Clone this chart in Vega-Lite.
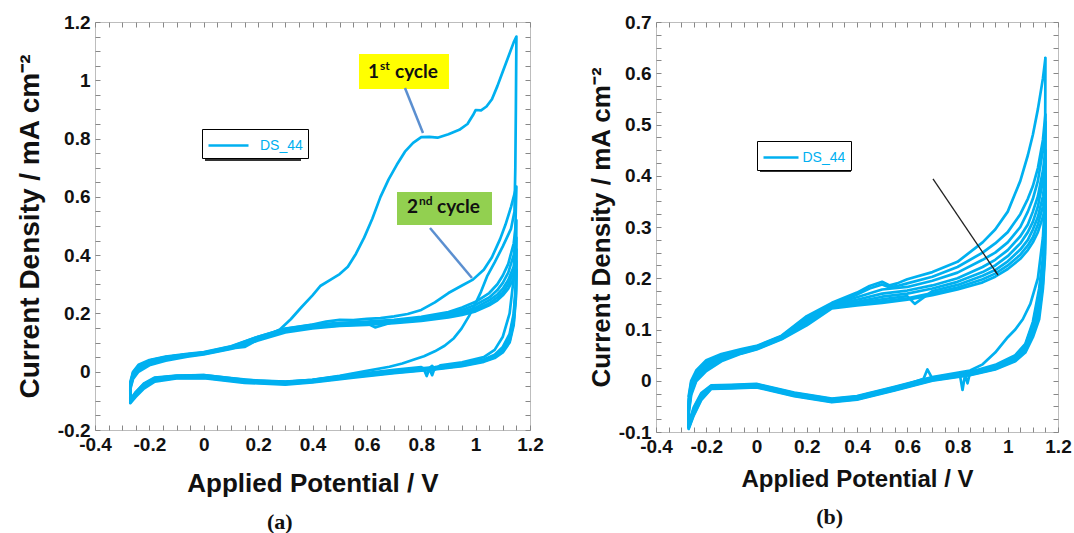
{
"$schema":"https://vega.github.io/schema/vega-lite/v6.json",
"background":"white",
"padding":{"left":15,"top":12,"right":0,"bottom":0},
"config":{"font":"Liberation Sans","view":{"stroke":"#bdbdbd","strokeWidth":1},"axis":{"grid":false,"labelFontWeight":"bold"}},
"resolve":{"scale":{"x":"independent","y":"independent","color":"independent"}},
"spacing":43,
"datasets":{
"a":[
{"c":1,"x":-0.27,"y":-0.045},{"c":1,"x":-0.26,"y":-0.005},{"c":1,"x":-0.24,"y":0.02},{"c":1,"x":-0.2,"y":0.038},{"c":1,"x":-0.14,"y":0.05},{"c":1,"x":-0.06,"y":0.06},{"c":1,"x":0,"y":0.065},{"c":1,"x":0.1,"y":0.084},{"c":1,"x":0.2,"y":0.115},{"c":1,"x":0.25,"y":0.132},{"c":1,"x":0.28,"y":0.145},{"c":1,"x":0.32,"y":0.18},{"c":1,"x":0.36,"y":0.222},{"c":1,"x":0.4,"y":0.262},{"c":1,"x":0.43,"y":0.295},{"c":1,"x":0.47,"y":0.318},{"c":1,"x":0.5,"y":0.335},{"c":1,"x":0.53,"y":0.36},{"c":1,"x":0.56,"y":0.405},{"c":1,"x":0.59,"y":0.46},{"c":1,"x":0.62,"y":0.525},{"c":1,"x":0.65,"y":0.6},{"c":1,"x":0.68,"y":0.66},{"c":1,"x":0.71,"y":0.71},{"c":1,"x":0.74,"y":0.755},{"c":1,"x":0.77,"y":0.785},{"c":1,"x":0.8,"y":0.805},{"c":1,"x":0.83,"y":0.806},{"c":1,"x":0.86,"y":0.803},{"c":1,"x":0.9,"y":0.815},{"c":1,"x":0.94,"y":0.83},{"c":1,"x":0.97,"y":0.85},{"c":1,"x":0.99,"y":0.88},{"c":1,"x":1.0,"y":0.898},{"c":1,"x":1.02,"y":0.897},{"c":1,"x":1.04,"y":0.91},{"c":1,"x":1.06,"y":0.935},{"c":1,"x":1.08,"y":0.98},{"c":1,"x":1.1,"y":1.03},{"c":1,"x":1.12,"y":1.08},{"c":1,"x":1.14,"y":1.13},{"c":1,"x":1.15,"y":1.15},
{"c":1,"x":1.148,"y":0.9},{"c":1,"x":1.146,"y":0.7},{"c":1,"x":1.143,"y":0.55},{"c":1,"x":1.13,"y":0.49},{"c":1,"x":1.1,"y":0.43},{"c":1,"x":1.07,"y":0.375},{"c":1,"x":1.042,"y":0.327},{"c":1,"x":1.02,"y":0.275},{"c":1,"x":0.998,"y":0.231},{"c":1,"x":0.975,"y":0.19},{"c":1,"x":0.948,"y":0.148},{"c":1,"x":0.92,"y":0.115},{"c":1,"x":0.886,"y":0.089},{"c":1,"x":0.85,"y":0.07},{"c":1,"x":0.81,"y":0.053},{"c":1,"x":0.771,"y":0.041},{"c":1,"x":0.73,"y":0.028},{"c":1,"x":0.683,"y":0.017},{"c":1,"x":0.6,"y":0.003},{"c":1,"x":0.5,"y":-0.014},{"c":1,"x":0.4,"y":-0.028},{"c":1,"x":0.3,"y":-0.035},{"c":1,"x":0.2,"y":-0.031},{"c":1,"x":0.1,"y":-0.022},{"c":1,"x":0,"y":-0.012},{"c":1,"x":-0.1,"y":-0.014},{"c":1,"x":-0.18,"y":-0.022},{"c":1,"x":-0.22,"y":-0.045},{"c":1,"x":-0.25,"y":-0.075},{"c":1,"x":-0.27,"y":-0.1},
{"c":2,"x":-0.27,"y":-0.1},{"c":2,"x":-0.27,"y":-0.035},{"c":2,"x":-0.26,"y":0.0},{"c":2,"x":-0.24,"y":0.024},{"c":2,"x":-0.2,"y":0.04},{"c":2,"x":-0.14,"y":0.052},{"c":2,"x":-0.06,"y":0.061},{"c":2,"x":0,"y":0.067},{"c":2,"x":0.1,"y":0.087},{"c":2,"x":0.2,"y":0.12},{"c":2,"x":0.3,"y":0.148},{"c":2,"x":0.4,"y":0.162},{"c":2,"x":0.45,"y":0.172},{"c":2,"x":0.5,"y":0.178},{"c":2,"x":0.55,"y":0.177},{"c":2,"x":0.6,"y":0.181},{"c":2,"x":0.65,"y":0.184},{"c":2,"x":0.7,"y":0.19},{"c":2,"x":0.75,"y":0.198},{"c":2,"x":0.8,"y":0.212},{"c":2,"x":0.85,"y":0.238},{"c":2,"x":0.9,"y":0.27},{"c":2,"x":0.95,"y":0.296},{"c":2,"x":0.99,"y":0.316},{"c":2,"x":1.03,"y":0.35},{"c":2,"x":1.06,"y":0.393},{"c":2,"x":1.09,"y":0.455},{"c":2,"x":1.11,"y":0.505},{"c":2,"x":1.13,"y":0.565},{"c":2,"x":1.15,"y":0.635},
{"c":2,"x":1.145,"y":0.45},{"c":2,"x":1.14,"y":0.32},{"c":2,"x":1.125,"y":0.2},{"c":2,"x":1.1,"y":0.12},{"c":2,"x":1.07,"y":0.075},{"c":2,"x":1.03,"y":0.05},{"c":2,"x":0.95,"y":0.032},{"c":2,"x":0.87,"y":0.022},{"c":2,"x":0.85,"y":0.008},{"c":2,"x":0.84,"y":0.02},{"c":2,"x":0.82,"y":0.005},{"c":2,"x":0.8,"y":0.016},{"c":2,"x":0.7,"y":0.006},{"c":2,"x":0.55,"y":-0.01},{"c":2,"x":0.4,"y":-0.028},{"c":2,"x":0.3,"y":-0.034},{"c":2,"x":0.15,"y":-0.028},{"c":2,"x":0,"y":-0.012},{"c":2,"x":-0.1,"y":-0.013},{"c":2,"x":-0.18,"y":-0.02},{"c":2,"x":-0.22,"y":-0.04},{"c":2,"x":-0.25,"y":-0.07},{"c":2,"x":-0.27,"y":-0.095},
{"c":3,"x":-0.27,"y":-0.095},{"c":3,"x":-0.27,"y":-0.04},{"c":3,"x":-0.26,"y":-0.005},{"c":3,"x":-0.24,"y":0.02},{"c":3,"x":-0.2,"y":0.038},{"c":3,"x":-0.14,"y":0.05},{"c":3,"x":-0.06,"y":0.06},{"c":3,"x":0,"y":0.066},{"c":3,"x":0.1,"y":0.086},{"c":3,"x":0.2,"y":0.12},{"c":3,"x":0.3,"y":0.147},{"c":3,"x":0.4,"y":0.161},{"c":3,"x":0.5,"y":0.168},{"c":3,"x":0.6,"y":0.172},{"c":3,"x":0.7,"y":0.178},{"c":3,"x":0.8,"y":0.188},{"c":3,"x":0.9,"y":0.205},{"c":3,"x":0.95,"y":0.22},{"c":3,"x":1.0,"y":0.24},{"c":3,"x":1.05,"y":0.27},{"c":3,"x":1.08,"y":0.3},{"c":3,"x":1.1,"y":0.33},{"c":3,"x":1.12,"y":0.37},{"c":3,"x":1.14,"y":0.44},{"c":3,"x":1.15,"y":0.52},
{"c":3,"x":1.148,"y":0.3},{"c":3,"x":1.14,"y":0.2},{"c":3,"x":1.125,"y":0.13},{"c":3,"x":1.1,"y":0.085},{"c":3,"x":1.07,"y":0.058},{"c":3,"x":1.03,"y":0.042},{"c":3,"x":0.95,"y":0.027},{"c":3,"x":0.85,"y":0.016},{"c":3,"x":0.7,"y":0.003},{"c":3,"x":0.55,"y":-0.012},{"c":3,"x":0.4,"y":-0.029},{"c":3,"x":0.3,"y":-0.036},{"c":3,"x":0.15,"y":-0.03},{"c":3,"x":0,"y":-0.014},{"c":3,"x":-0.1,"y":-0.015},{"c":3,"x":-0.18,"y":-0.022},{"c":3,"x":-0.22,"y":-0.042},{"c":3,"x":-0.25,"y":-0.07},{"c":3,"x":-0.27,"y":-0.1},
{"c":4,"x":-0.27,"y":-0.1},{"c":4,"x":-0.27,"y":-0.045},{"c":4,"x":-0.26,"y":-0.01},{"c":4,"x":-0.24,"y":0.015},{"c":4,"x":-0.2,"y":0.034},{"c":4,"x":-0.14,"y":0.047},{"c":4,"x":-0.06,"y":0.058},{"c":4,"x":0,"y":0.064},{"c":4,"x":0.1,"y":0.083},{"c":4,"x":0.2,"y":0.116},{"c":4,"x":0.3,"y":0.144},{"c":4,"x":0.4,"y":0.158},{"c":4,"x":0.5,"y":0.165},{"c":4,"x":0.6,"y":0.169},{"c":4,"x":0.7,"y":0.175},{"c":4,"x":0.8,"y":0.184},{"c":4,"x":0.9,"y":0.2},{"c":4,"x":0.95,"y":0.212},{"c":4,"x":1.0,"y":0.23},{"c":4,"x":1.05,"y":0.255},{"c":4,"x":1.08,"y":0.28},{"c":4,"x":1.1,"y":0.305},{"c":4,"x":1.12,"y":0.34},{"c":4,"x":1.14,"y":0.4},{"c":4,"x":1.15,"y":0.46},
{"c":4,"x":1.148,"y":0.28},{"c":4,"x":1.14,"y":0.19},{"c":4,"x":1.125,"y":0.12},{"c":4,"x":1.1,"y":0.08},{"c":4,"x":1.07,"y":0.055},{"c":4,"x":1.03,"y":0.04},{"c":4,"x":0.95,"y":0.025},{"c":4,"x":0.85,"y":0.014},{"c":4,"x":0.84,"y":-0.012},{"c":4,"x":0.83,"y":0.01},{"c":4,"x":0.82,"y":-0.015},{"c":4,"x":0.81,"y":0.008},{"c":4,"x":0.7,"y":0.001},{"c":4,"x":0.55,"y":-0.014},{"c":4,"x":0.4,"y":-0.031},{"c":4,"x":0.3,"y":-0.038},{"c":4,"x":0.15,"y":-0.032},{"c":4,"x":0,"y":-0.016},{"c":4,"x":-0.1,"y":-0.017},{"c":4,"x":-0.18,"y":-0.025},{"c":4,"x":-0.22,"y":-0.046},{"c":4,"x":-0.25,"y":-0.074},{"c":4,"x":-0.27,"y":-0.102},
{"c":5,"x":-0.27,"y":-0.102},{"c":5,"x":-0.27,"y":-0.05},{"c":5,"x":-0.26,"y":-0.015},{"c":5,"x":-0.24,"y":0.01},{"c":5,"x":-0.2,"y":0.03},{"c":5,"x":-0.14,"y":0.044},{"c":5,"x":-0.06,"y":0.056},{"c":5,"x":0,"y":0.062},{"c":5,"x":0.1,"y":0.081},{"c":5,"x":0.2,"y":0.113},{"c":5,"x":0.3,"y":0.141},{"c":5,"x":0.4,"y":0.155},{"c":5,"x":0.5,"y":0.162},{"c":5,"x":0.6,"y":0.166},{"c":5,"x":0.63,"y":0.152},{"c":5,"x":0.7,"y":0.172},{"c":5,"x":0.8,"y":0.18},{"c":5,"x":0.9,"y":0.195},{"c":5,"x":0.95,"y":0.205},{"c":5,"x":1.0,"y":0.22},{"c":5,"x":1.05,"y":0.245},{"c":5,"x":1.08,"y":0.265},{"c":5,"x":1.1,"y":0.285},{"c":5,"x":1.12,"y":0.315},{"c":5,"x":1.14,"y":0.36},{"c":5,"x":1.15,"y":0.42},
{"c":5,"x":1.148,"y":0.27},{"c":5,"x":1.14,"y":0.18},{"c":5,"x":1.125,"y":0.11},{"c":5,"x":1.1,"y":0.075},{"c":5,"x":1.07,"y":0.052},{"c":5,"x":1.03,"y":0.038},{"c":5,"x":0.95,"y":0.023},{"c":5,"x":0.85,"y":0.012},{"c":5,"x":0.7,"y":-0.001},{"c":5,"x":0.55,"y":-0.016},{"c":5,"x":0.4,"y":-0.033},{"c":5,"x":0.3,"y":-0.04},{"c":5,"x":0.15,"y":-0.034},{"c":5,"x":0,"y":-0.018},{"c":5,"x":-0.1,"y":-0.019},{"c":5,"x":-0.18,"y":-0.028},{"c":5,"x":-0.22,"y":-0.05},{"c":5,"x":-0.25,"y":-0.078},{"c":5,"x":-0.27,"y":-0.104},
{"c":6,"x":-0.27,"y":-0.104},{"c":6,"x":-0.27,"y":-0.055},{"c":6,"x":-0.26,"y":-0.02},{"c":6,"x":-0.24,"y":0.005},{"c":6,"x":-0.2,"y":0.026},{"c":6,"x":-0.14,"y":0.041},{"c":6,"x":-0.06,"y":0.054},{"c":6,"x":0,"y":0.061},{"c":6,"x":0.1,"y":0.08},{"c":6,"x":0.15,"y":0.085},{"c":6,"x":0.2,"y":0.11},{"c":6,"x":0.3,"y":0.138},{"c":6,"x":0.4,"y":0.152},{"c":6,"x":0.5,"y":0.159},{"c":6,"x":0.6,"y":0.163},{"c":6,"x":0.7,"y":0.169},{"c":6,"x":0.8,"y":0.177},{"c":6,"x":0.9,"y":0.19},{"c":6,"x":0.95,"y":0.2},{"c":6,"x":1.0,"y":0.213},{"c":6,"x":1.05,"y":0.235},{"c":6,"x":1.08,"y":0.255},{"c":6,"x":1.1,"y":0.272},{"c":6,"x":1.12,"y":0.3},{"c":6,"x":1.14,"y":0.34},{"c":6,"x":1.15,"y":0.38},
{"c":6,"x":1.148,"y":0.26},{"c":6,"x":1.14,"y":0.17},{"c":6,"x":1.125,"y":0.105},{"c":6,"x":1.1,"y":0.07},{"c":6,"x":1.07,"y":0.05},{"c":6,"x":1.03,"y":0.036},{"c":6,"x":0.95,"y":0.021},{"c":6,"x":0.85,"y":0.01},{"c":6,"x":0.7,"y":-0.003},{"c":6,"x":0.55,"y":-0.018},{"c":6,"x":0.4,"y":-0.035},{"c":6,"x":0.3,"y":-0.042},{"c":6,"x":0.15,"y":-0.036},{"c":6,"x":0,"y":-0.02},{"c":6,"x":-0.1,"y":-0.021},{"c":6,"x":-0.18,"y":-0.031},{"c":6,"x":-0.22,"y":-0.054},{"c":6,"x":-0.25,"y":-0.082},{"c":6,"x":-0.27,"y":-0.106},
{"c":7,"x":-0.27,"y":-0.106},{"c":7,"x":-0.27,"y":-0.06},{"c":7,"x":-0.26,"y":-0.025},{"c":7,"x":-0.24,"y":0.0},{"c":7,"x":-0.2,"y":0.022},{"c":7,"x":-0.14,"y":0.038},{"c":7,"x":-0.06,"y":0.052},{"c":7,"x":0,"y":0.059},{"c":7,"x":0.1,"y":0.078},{"c":7,"x":0.2,"y":0.107},{"c":7,"x":0.3,"y":0.135},{"c":7,"x":0.4,"y":0.149},{"c":7,"x":0.5,"y":0.157},{"c":7,"x":0.6,"y":0.161},{"c":7,"x":0.7,"y":0.167},{"c":7,"x":0.8,"y":0.174},{"c":7,"x":0.9,"y":0.186},{"c":7,"x":0.95,"y":0.195},{"c":7,"x":1.0,"y":0.207},{"c":7,"x":1.05,"y":0.228},{"c":7,"x":1.08,"y":0.245},{"c":7,"x":1.1,"y":0.262},{"c":7,"x":1.12,"y":0.285},{"c":7,"x":1.14,"y":0.32},{"c":7,"x":1.15,"y":0.35},
{"c":7,"x":1.148,"y":0.25},{"c":7,"x":1.14,"y":0.16},{"c":7,"x":1.125,"y":0.1},{"c":7,"x":1.1,"y":0.066},{"c":7,"x":1.07,"y":0.047},{"c":7,"x":1.03,"y":0.034},{"c":7,"x":0.95,"y":0.019},{"c":7,"x":0.85,"y":0.008},{"c":7,"x":0.7,"y":-0.005},{"c":7,"x":0.55,"y":-0.02},{"c":7,"x":0.4,"y":-0.037},{"c":7,"x":0.3,"y":-0.044},{"c":7,"x":0.15,"y":-0.038},{"c":7,"x":0,"y":-0.022},{"c":7,"x":-0.1,"y":-0.023},{"c":7,"x":-0.18,"y":-0.034},{"c":7,"x":-0.22,"y":-0.058},{"c":7,"x":-0.25,"y":-0.086},{"c":7,"x":-0.27,"y":-0.108}
],
"b":[
{"c":1,"x":-0.27,"y":-0.03},{"c":1,"x":-0.26,"y":0.0},{"c":1,"x":-0.24,"y":0.02},{"c":1,"x":-0.2,"y":0.04},{"c":1,"x":-0.14,"y":0.052},{"c":1,"x":-0.06,"y":0.062},{"c":1,"x":0,"y":0.068},{"c":1,"x":0.1,"y":0.088},{"c":1,"x":0.2,"y":0.126},{"c":1,"x":0.3,"y":0.152},{"c":1,"x":0.4,"y":0.172},{"c":1,"x":0.45,"y":0.185},{"c":1,"x":0.5,"y":0.193},{"c":1,"x":0.53,"y":0.186},{"c":1,"x":0.56,"y":0.19},{"c":1,"x":0.6,"y":0.198},{"c":1,"x":0.7,"y":0.212},{"c":1,"x":0.8,"y":0.232},{"c":1,"x":0.9,"y":0.27},{"c":1,"x":0.95,"y":0.295},{"c":1,"x":1.0,"y":0.33},{"c":1,"x":1.05,"y":0.39},{"c":1,"x":1.08,"y":0.44},{"c":1,"x":1.1,"y":0.48},{"c":1,"x":1.12,"y":0.53},{"c":1,"x":1.14,"y":0.59},{"c":1,"x":1.15,"y":0.63},
{"c":1,"x":1.148,"y":0.35},{"c":1,"x":1.14,"y":0.28},{"c":1,"x":1.12,"y":0.2},{"c":1,"x":1.09,"y":0.15},{"c":1,"x":1.06,"y":0.12},{"c":1,"x":1.03,"y":0.1},{"c":1,"x":1.0,"y":0.085},{"c":1,"x":0.95,"y":0.055},{"c":1,"x":0.9,"y":0.032},{"c":1,"x":0.85,"y":0.02},{"c":1,"x":0.7,"y":0.007},{"c":1,"x":0.55,"y":-0.012},{"c":1,"x":0.4,"y":-0.03},{"c":1,"x":0.3,"y":-0.035},{"c":1,"x":0.15,"y":-0.023},{"c":1,"x":0,"y":-0.006},{"c":1,"x":-0.1,"y":-0.008},{"c":1,"x":-0.18,"y":-0.009},{"c":1,"x":-0.22,"y":-0.024},{"c":1,"x":-0.25,"y":-0.052},{"c":1,"x":-0.27,"y":-0.083},
{"c":2,"x":-0.27,"y":-0.083},{"c":2,"x":-0.27,"y":-0.035},{"c":2,"x":-0.26,"y":-0.004},{"c":2,"x":-0.24,"y":0.017},{"c":2,"x":-0.2,"y":0.037},{"c":2,"x":-0.14,"y":0.05},{"c":2,"x":-0.06,"y":0.06},{"c":2,"x":0,"y":0.067},{"c":2,"x":0.1,"y":0.087},{"c":2,"x":0.2,"y":0.123},{"c":2,"x":0.3,"y":0.15},{"c":2,"x":0.4,"y":0.168},{"c":2,"x":0.45,"y":0.18},{"c":2,"x":0.5,"y":0.188},{"c":2,"x":0.53,"y":0.182},{"c":2,"x":0.56,"y":0.185},{"c":2,"x":0.6,"y":0.19},{"c":2,"x":0.7,"y":0.203},{"c":2,"x":0.8,"y":0.222},{"c":2,"x":0.9,"y":0.25},{"c":2,"x":0.95,"y":0.268},{"c":2,"x":1.0,"y":0.29},{"c":2,"x":1.05,"y":0.325},{"c":2,"x":1.08,"y":0.355},{"c":2,"x":1.1,"y":0.38},{"c":2,"x":1.12,"y":0.415},{"c":2,"x":1.14,"y":0.47},{"c":2,"x":1.15,"y":0.52},
{"c":2,"x":1.148,"y":0.3},{"c":2,"x":1.14,"y":0.24},{"c":2,"x":1.125,"y":0.18},{"c":2,"x":1.1,"y":0.115},{"c":2,"x":1.07,"y":0.072},{"c":2,"x":1.03,"y":0.05},{"c":2,"x":0.95,"y":0.031},{"c":2,"x":0.85,"y":0.017},{"c":2,"x":0.7,"y":0.006},{"c":2,"x":0.55,"y":-0.013},{"c":2,"x":0.4,"y":-0.031},{"c":2,"x":0.3,"y":-0.036},{"c":2,"x":0.15,"y":-0.024},{"c":2,"x":0,"y":-0.007},{"c":2,"x":-0.1,"y":-0.009},{"c":2,"x":-0.18,"y":-0.01},{"c":2,"x":-0.22,"y":-0.026},{"c":2,"x":-0.25,"y":-0.055},{"c":2,"x":-0.27,"y":-0.085},
{"c":3,"x":-0.27,"y":-0.085},{"c":3,"x":-0.27,"y":-0.04},{"c":3,"x":-0.26,"y":-0.008},{"c":3,"x":-0.24,"y":0.014},{"c":3,"x":-0.2,"y":0.034},{"c":3,"x":-0.14,"y":0.048},{"c":3,"x":-0.06,"y":0.059},{"c":3,"x":0,"y":0.066},{"c":3,"x":0.1,"y":0.086},{"c":3,"x":0.2,"y":0.121},{"c":3,"x":0.3,"y":0.149},{"c":3,"x":0.4,"y":0.163},{"c":3,"x":0.5,"y":0.178},{"c":3,"x":0.6,"y":0.183},{"c":3,"x":0.7,"y":0.195},{"c":3,"x":0.8,"y":0.211},{"c":3,"x":0.9,"y":0.236},{"c":3,"x":0.95,"y":0.25},{"c":3,"x":1.0,"y":0.27},{"c":3,"x":1.05,"y":0.3},{"c":3,"x":1.08,"y":0.33},{"c":3,"x":1.1,"y":0.355},{"c":3,"x":1.12,"y":0.39},{"c":3,"x":1.14,"y":0.45},{"c":3,"x":1.15,"y":0.505},
{"c":3,"x":1.148,"y":0.29},{"c":3,"x":1.14,"y":0.23},{"c":3,"x":1.125,"y":0.17},{"c":3,"x":1.1,"y":0.11},{"c":3,"x":1.07,"y":0.07},{"c":3,"x":1.03,"y":0.048},{"c":3,"x":0.95,"y":0.029},{"c":3,"x":0.85,"y":0.016},{"c":3,"x":0.84,"y":-0.005},{"c":3,"x":0.83,"y":0.012},{"c":3,"x":0.82,"y":-0.018},{"c":3,"x":0.81,"y":0.01},{"c":3,"x":0.7,"y":0.005},{"c":3,"x":0.55,"y":-0.014},{"c":3,"x":0.4,"y":-0.032},{"c":3,"x":0.3,"y":-0.037},{"c":3,"x":0.15,"y":-0.025},{"c":3,"x":0,"y":-0.008},{"c":3,"x":-0.1,"y":-0.01},{"c":3,"x":-0.18,"y":-0.011},{"c":3,"x":-0.22,"y":-0.028},{"c":3,"x":-0.25,"y":-0.058},{"c":3,"x":-0.27,"y":-0.087},
{"c":4,"x":-0.27,"y":-0.087},{"c":4,"x":-0.27,"y":-0.045},{"c":4,"x":-0.26,"y":-0.012},{"c":4,"x":-0.24,"y":0.011},{"c":4,"x":-0.2,"y":0.031},{"c":4,"x":-0.14,"y":0.046},{"c":4,"x":-0.06,"y":0.058},{"c":4,"x":0,"y":0.065},{"c":4,"x":0.1,"y":0.085},{"c":4,"x":0.2,"y":0.119},{"c":4,"x":0.3,"y":0.148},{"c":4,"x":0.4,"y":0.158},{"c":4,"x":0.5,"y":0.17},{"c":4,"x":0.6,"y":0.176},{"c":4,"x":0.7,"y":0.186},{"c":4,"x":0.8,"y":0.2},{"c":4,"x":0.9,"y":0.222},{"c":4,"x":0.95,"y":0.236},{"c":4,"x":1.0,"y":0.255},{"c":4,"x":1.05,"y":0.282},{"c":4,"x":1.08,"y":0.305},{"c":4,"x":1.1,"y":0.33},{"c":4,"x":1.12,"y":0.36},{"c":4,"x":1.14,"y":0.41},{"c":4,"x":1.15,"y":0.45},
{"c":4,"x":1.148,"y":0.28},{"c":4,"x":1.14,"y":0.22},{"c":4,"x":1.125,"y":0.16},{"c":4,"x":1.1,"y":0.105},{"c":4,"x":1.07,"y":0.067},{"c":4,"x":1.03,"y":0.046},{"c":4,"x":0.95,"y":0.028},{"c":4,"x":0.85,"y":0.015},{"c":4,"x":0.7,"y":0.004},{"c":4,"x":0.68,"y":0.022},{"c":4,"x":0.665,"y":0.004},{"c":4,"x":0.55,"y":-0.015},{"c":4,"x":0.4,"y":-0.033},{"c":4,"x":0.3,"y":-0.038},{"c":4,"x":0.15,"y":-0.026},{"c":4,"x":0,"y":-0.009},{"c":4,"x":-0.1,"y":-0.011},{"c":4,"x":-0.18,"y":-0.012},{"c":4,"x":-0.22,"y":-0.03},{"c":4,"x":-0.25,"y":-0.06},{"c":4,"x":-0.27,"y":-0.089},
{"c":5,"x":-0.27,"y":-0.089},{"c":5,"x":-0.27,"y":-0.05},{"c":5,"x":-0.26,"y":-0.016},{"c":5,"x":-0.24,"y":0.008},{"c":5,"x":-0.2,"y":0.028},{"c":5,"x":-0.14,"y":0.044},{"c":5,"x":-0.06,"y":0.057},{"c":5,"x":0,"y":0.064},{"c":5,"x":0.1,"y":0.084},{"c":5,"x":0.2,"y":0.117},{"c":5,"x":0.3,"y":0.147},{"c":5,"x":0.4,"y":0.154},{"c":5,"x":0.5,"y":0.164},{"c":5,"x":0.6,"y":0.17},{"c":5,"x":0.7,"y":0.18},{"c":5,"x":0.8,"y":0.193},{"c":5,"x":0.9,"y":0.212},{"c":5,"x":0.95,"y":0.225},{"c":5,"x":1.0,"y":0.243},{"c":5,"x":1.05,"y":0.268},{"c":5,"x":1.08,"y":0.29},{"c":5,"x":1.1,"y":0.31},{"c":5,"x":1.12,"y":0.34},{"c":5,"x":1.14,"y":0.39},{"c":5,"x":1.15,"y":0.43},
{"c":5,"x":1.148,"y":0.27},{"c":5,"x":1.14,"y":0.21},{"c":5,"x":1.125,"y":0.15},{"c":5,"x":1.1,"y":0.1},{"c":5,"x":1.07,"y":0.064},{"c":5,"x":1.03,"y":0.044},{"c":5,"x":0.95,"y":0.026},{"c":5,"x":0.85,"y":0.014},{"c":5,"x":0.7,"y":0.003},{"c":5,"x":0.55,"y":-0.016},{"c":5,"x":0.4,"y":-0.034},{"c":5,"x":0.3,"y":-0.039},{"c":5,"x":0.15,"y":-0.027},{"c":5,"x":0,"y":-0.01},{"c":5,"x":-0.1,"y":-0.012},{"c":5,"x":-0.18,"y":-0.013},{"c":5,"x":-0.22,"y":-0.032},{"c":5,"x":-0.25,"y":-0.062},{"c":5,"x":-0.27,"y":-0.09},
{"c":6,"x":-0.27,"y":-0.09},{"c":6,"x":-0.27,"y":-0.055},{"c":6,"x":-0.26,"y":-0.02},{"c":6,"x":-0.24,"y":0.005},{"c":6,"x":-0.2,"y":0.025},{"c":6,"x":-0.14,"y":0.042},{"c":6,"x":-0.06,"y":0.056},{"c":6,"x":0,"y":0.063},{"c":6,"x":0.1,"y":0.083},{"c":6,"x":0.2,"y":0.114},{"c":6,"x":0.3,"y":0.145},{"c":6,"x":0.4,"y":0.151},{"c":6,"x":0.5,"y":0.159},{"c":6,"x":0.6,"y":0.165},{"c":6,"x":0.63,"y":0.15},{"c":6,"x":0.7,"y":0.175},{"c":6,"x":0.8,"y":0.187},{"c":6,"x":0.9,"y":0.205},{"c":6,"x":0.95,"y":0.216},{"c":6,"x":1.0,"y":0.233},{"c":6,"x":1.05,"y":0.256},{"c":6,"x":1.08,"y":0.275},{"c":6,"x":1.1,"y":0.295},{"c":6,"x":1.12,"y":0.32},{"c":6,"x":1.14,"y":0.36},{"c":6,"x":1.15,"y":0.4},
{"c":6,"x":1.148,"y":0.26},{"c":6,"x":1.14,"y":0.2},{"c":6,"x":1.125,"y":0.14},{"c":6,"x":1.1,"y":0.095},{"c":6,"x":1.07,"y":0.061},{"c":6,"x":1.03,"y":0.042},{"c":6,"x":0.95,"y":0.025},{"c":6,"x":0.85,"y":0.013},{"c":6,"x":0.7,"y":0.002},{"c":6,"x":0.55,"y":-0.017},{"c":6,"x":0.4,"y":-0.035},{"c":6,"x":0.3,"y":-0.04},{"c":6,"x":0.15,"y":-0.028},{"c":6,"x":0,"y":-0.011},{"c":6,"x":-0.1,"y":-0.013},{"c":6,"x":-0.18,"y":-0.014},{"c":6,"x":-0.22,"y":-0.034},{"c":6,"x":-0.25,"y":-0.064},{"c":6,"x":-0.27,"y":-0.091},
{"c":7,"x":-0.27,"y":-0.091},{"c":7,"x":-0.27,"y":-0.06},{"c":7,"x":-0.26,"y":-0.024},{"c":7,"x":-0.24,"y":0.002},{"c":7,"x":-0.2,"y":0.022},{"c":7,"x":-0.14,"y":0.04},{"c":7,"x":-0.06,"y":0.054},{"c":7,"x":0,"y":0.062},{"c":7,"x":0.1,"y":0.082},{"c":7,"x":0.2,"y":0.111},{"c":7,"x":0.3,"y":0.143},{"c":7,"x":0.4,"y":0.149},{"c":7,"x":0.5,"y":0.155},{"c":7,"x":0.6,"y":0.161},{"c":7,"x":0.7,"y":0.171},{"c":7,"x":0.8,"y":0.182},{"c":7,"x":0.9,"y":0.198},{"c":7,"x":0.95,"y":0.209},{"c":7,"x":1.0,"y":0.225},{"c":7,"x":1.05,"y":0.246},{"c":7,"x":1.08,"y":0.264},{"c":7,"x":1.1,"y":0.28},{"c":7,"x":1.12,"y":0.305},{"c":7,"x":1.14,"y":0.34},{"c":7,"x":1.15,"y":0.37},
{"c":7,"x":1.148,"y":0.25},{"c":7,"x":1.14,"y":0.19},{"c":7,"x":1.125,"y":0.13},{"c":7,"x":1.1,"y":0.09},{"c":7,"x":1.07,"y":0.058},{"c":7,"x":1.03,"y":0.04},{"c":7,"x":0.95,"y":0.023},{"c":7,"x":0.85,"y":0.012},{"c":7,"x":0.7,"y":0.001},{"c":7,"x":0.55,"y":-0.018},{"c":7,"x":0.4,"y":-0.036},{"c":7,"x":0.3,"y":-0.041},{"c":7,"x":0.15,"y":-0.029},{"c":7,"x":0,"y":-0.012},{"c":7,"x":-0.1,"y":-0.014},{"c":7,"x":-0.18,"y":-0.015},{"c":7,"x":-0.22,"y":-0.036},{"c":7,"x":-0.25,"y":-0.066},{"c":7,"x":-0.27,"y":-0.092},
{"c":8,"x":-0.27,"y":-0.092},{"c":8,"x":-0.27,"y":-0.065},{"c":8,"x":-0.26,"y":-0.028},{"c":8,"x":-0.24,"y":-0.001},{"c":8,"x":-0.2,"y":0.019},{"c":8,"x":-0.14,"y":0.038},{"c":8,"x":-0.06,"y":0.053},{"c":8,"x":0,"y":0.061},{"c":8,"x":0.1,"y":0.081},{"c":8,"x":0.2,"y":0.108},{"c":8,"x":0.3,"y":0.141},{"c":8,"x":0.4,"y":0.147},{"c":8,"x":0.5,"y":0.152},{"c":8,"x":0.6,"y":0.158},{"c":8,"x":0.7,"y":0.167},{"c":8,"x":0.8,"y":0.178},{"c":8,"x":0.9,"y":0.192},{"c":8,"x":0.95,"y":0.203},{"c":8,"x":1.0,"y":0.218},{"c":8,"x":1.05,"y":0.238},{"c":8,"x":1.08,"y":0.255},{"c":8,"x":1.1,"y":0.27},{"c":8,"x":1.12,"y":0.29},{"c":8,"x":1.14,"y":0.32},{"c":8,"x":1.15,"y":0.34},
{"c":8,"x":1.148,"y":0.24},{"c":8,"x":1.14,"y":0.18},{"c":8,"x":1.125,"y":0.12},{"c":8,"x":1.1,"y":0.085},{"c":8,"x":1.07,"y":0.055},{"c":8,"x":1.03,"y":0.038},{"c":8,"x":0.95,"y":0.022},{"c":8,"x":0.85,"y":0.011},{"c":8,"x":0.7,"y":0.0},{"c":8,"x":0.55,"y":-0.019},{"c":8,"x":0.4,"y":-0.037},{"c":8,"x":0.3,"y":-0.042},{"c":8,"x":0.15,"y":-0.03},{"c":8,"x":0,"y":-0.013},{"c":8,"x":-0.1,"y":-0.015},{"c":8,"x":-0.18,"y":-0.016},{"c":8,"x":-0.22,"y":-0.038},{"c":8,"x":-0.25,"y":-0.068},{"c":8,"x":-0.27,"y":-0.094}
],
"na":[
{"k":"big","t":"1","x":0.6041,"y":1.0078},{"k":"sup","t":"st","x":0.6483,"y":1.0078},{"k":"big","t":"cycle","x":0.7034,"y":1.0078},
{"k":"big","t":"2","x":0.7476,"y":0.5446},{"k":"sup","t":"nd","x":0.7917,"y":0.5446},{"k":"big","t":"cycle","x":0.8579,"y":0.5446}
],
"boxa":[
{"label":"1st","x1":0.571,"x2":0.902,"y1":1.0902,"y2":0.9701,"lx1":0.7402,"ly1":0.9735,"lx2":0.8064,"ly2":0.8191},
{"label":"2nd","x1":0.7108,"x2":1.0602,"y1":0.6167,"y2":0.5034,"lx1":0.8322,"ly1":0.4931,"lx2":0.9866,"ly2":0.3216}
]
},
"hconcat":[
{
"width":435,"height":408,
"title":{"text":"(a)","orient":"bottom","anchor":"middle","frame":"bounds","font":"Liberation Serif","fontSize":22,"fontWeight":"bold","color":"#111","offset":16},
"resolve":{"axis":{"x":"independent","y":"independent"}},
"layer":[
{"data":{"values":[{}]},"mark":{"type":"rect","color":"#333"},"encoding":{"x":{"datum":0.0046,"type":"quantitative","scale":{"domain":[-0.4,1.2],"nice":false,"zero":false},"axis":null},"x2":{"datum":0.3577},"y":{"datum":0.8191,"type":"quantitative","scale":{"domain":[-0.2,1.2],"nice":false,"zero":false},"axis":null},"y2":{"datum":0.723}}},
{"data":{"name":"a"},"mark":{"type":"line","strokeWidth":2.7,"strokeJoin":"round","strokeCap":"round"},
"encoding":{
"x":{"field":"x","type":"quantitative","scale":{"domain":[-0.4,1.2],"nice":false,"zero":false},"axis":{"orient":"bottom","values":[-0.4,-0.2,0,0.2,0.4,0.6,0.8,1,1.2],"labelExpr":"''+datum.value","ticks":false,"tickSize":0,"domain":false,"grid":false,"labelFont":"Liberation Sans","labelFontSize":19,"labelFontWeight":"bold","labelColor":"#111","labelPadding":5,"labelFlush":false,"labelOverlap":false,"title":"Applied Potential / V","titleFont":"Liberation Sans","titleFontSize":26,"titleFontWeight":"bold","titleColor":"#111","titlePadding":16}},
"y":{"field":"y","type":"quantitative","scale":{"domain":[-0.2,1.2],"nice":false,"zero":false},"axis":{"orient":"left","values":[-0.2,0,0.2,0.4,0.6,0.8,1,1.2],"labelExpr":"''+datum.value","ticks":false,"tickSize":0,"domain":false,"grid":false,"labelFont":"Liberation Sans","labelFontSize":19,"labelFontWeight":"bold","labelColor":"#111","labelPadding":5,"labelOverlap":false,"title":"Current Density / mA cm⁻²","titleFont":"Liberation Sans","titleFontSize":28,"titleFontWeight":"bold","titleColor":"#111","titlePadding":13}},
"detail":{"field":"c","type":"nominal"},
"order":{"value":null},
"color":{"datum":"DS_44","scale":{"range":["#00B0F0"]},"legend":{"orient":"none","legendX":107,"legendY":107,"title":null,"symbolType":"M-2,0H2","symbolSize":400,"symbolStrokeWidth":2.5,"symbolOffset":10,"labelFontSize":14,"labelColor":"#00B0F0","labelFont":"Liberation Sans","strokeColor":"#000","fillColor":"#fff","padding":5,"labelOffset":20}}
}},
{"data":{"name":"boxa"},"mark":{"type":"rect"},"encoding":{"x":{"field":"x1","type":"quantitative","scale":{"domain":[-0.4,1.2],"nice":false,"zero":false},"axis":null},"x2":{"field":"x2"},"y":{"field":"y1","type":"quantitative","scale":{"domain":[-0.2,1.2],"nice":false,"zero":false},"axis":null},"y2":{"field":"y2"},"fill":{"field":"label","type":"nominal","scale":{"domain":["1st","2nd"],"range":["#FFFF00","#92D050"]},"legend":null}}},
{"data":{"name":"boxa"},"mark":{"type":"rule","color":"#5B8FD0","strokeWidth":2.5},"encoding":{"x":{"field":"lx1","type":"quantitative","scale":{"domain":[-0.4,1.2],"nice":false,"zero":false},"axis":null},"x2":{"field":"lx2"},"y":{"field":"ly1","type":"quantitative","scale":{"domain":[-0.2,1.2],"nice":false,"zero":false},"axis":null},"y2":{"field":"ly2"}}},
{"data":{"name":"na"},"transform":[{"filter":"datum.k=='big'"}],"mark":{"type":"text","align":"left","baseline":"alphabetic","font":"Lato","fontWeight":"bold","fontSize":19,"color":"#111"},"encoding":{"x":{"field":"x","type":"quantitative","scale":{"domain":[-0.4,1.2],"nice":false,"zero":false},"axis":null},"y":{"field":"y","type":"quantitative","scale":{"domain":[-0.2,1.2],"nice":false,"zero":false},"axis":null},"text":{"field":"t"}}},
{"data":{"name":"na"},"transform":[{"filter":"datum.k=='sup'"}],"mark":{"type":"text","align":"left","baseline":"alphabetic","font":"Lato","fontWeight":"bold","fontSize":12,"dy":-8,"color":"#111"},"encoding":{"x":{"field":"x","type":"quantitative","scale":{"domain":[-0.4,1.2],"nice":false,"zero":false},"axis":null},"y":{"field":"y","type":"quantitative","scale":{"domain":[-0.2,1.2],"nice":false,"zero":false},"axis":null},"text":{"field":"t"}}},
{"data":{"values":[{"x":0,"y":0}]},"mark":{"type":"point","opacity":0},"encoding":{
"x":{"field":"x","type":"quantitative","scale":{"domain":[-0.4,1.2],"nice":false,"zero":false},"axis":{"orient":"bottom","values":[-0.4,-0.35,-0.3,-0.25,-0.2,-0.15,-0.1,-0.05,0,0.05,0.1,0.15,0.2,0.25,0.3,0.35,0.4,0.45,0.5,0.55,0.6,0.65,0.7,0.75,0.8,0.85,0.9,0.95,1,1.05,1.1,1.15,1.2],"labels":false,"domain":false,"grid":false,"ticks":true,"tickSize":5,"tickColor":"#888","tickWidth":1,"offset":-5,"title":null}},
"y":{"field":"y","type":"quantitative","scale":{"domain":[-0.2,1.2],"nice":false,"zero":false},"axis":{"orient":"left","values":[-0.2,-0.15,-0.1,-0.05,0,0.05,0.1,0.15,0.2,0.25,0.3,0.35,0.4,0.45,0.5,0.55,0.6,0.65,0.7,0.75,0.8,0.85,0.9,0.95,1,1.05,1.1,1.15,1.2],"labels":false,"domain":false,"grid":false,"ticks":true,"tickSize":5,"tickColor":"#888","tickWidth":1,"offset":-5,"title":null}}}},
{"data":{"values":[{"x":0,"y":0}]},"mark":{"type":"point","opacity":0},"encoding":{
"x":{"field":"x","type":"quantitative","scale":{"domain":[-0.4,1.2],"nice":false,"zero":false},"axis":{"orient":"top","values":[-0.4,-0.35,-0.3,-0.25,-0.2,-0.15,-0.1,-0.05,0,0.05,0.1,0.15,0.2,0.25,0.3,0.35,0.4,0.45,0.5,0.55,0.6,0.65,0.7,0.75,0.8,0.85,0.9,0.95,1,1.05,1.1,1.15,1.2],"labels":false,"domain":false,"grid":false,"ticks":true,"tickSize":5,"tickColor":"#888","tickWidth":1,"offset":-5,"title":null}},
"y":{"field":"y","type":"quantitative","scale":{"domain":[-0.2,1.2],"nice":false,"zero":false},"axis":{"orient":"right","values":[-0.2,-0.15,-0.1,-0.05,0,0.05,0.1,0.15,0.2,0.25,0.3,0.35,0.4,0.45,0.5,0.55,0.6,0.65,0.7,0.75,0.8,0.85,0.9,0.95,1,1.05,1.1,1.15,1.2],"labels":false,"domain":false,"grid":false,"ticks":true,"tickSize":5,"tickColor":"#888","tickWidth":1,"offset":-5,"title":null}}}}
]
},
{
"width":402,"height":410,
"title":{"text":"(b)","orient":"bottom","anchor":"middle","frame":"bounds","font":"Liberation Serif","fontSize":22,"fontWeight":"bold","color":"#111","offset":16},
"resolve":{"axis":{"x":"independent","y":"independent"}},
"layer":[
{"data":{"values":[{}]},"mark":{"type":"rect","color":"#333"},"encoding":{"x":{"datum":0.0139,"type":"quantitative","scale":{"domain":[-0.4,1.2],"nice":false,"zero":false},"axis":null},"x2":{"datum":0.3761},"y":{"datum":0.462,"type":"quantitative","scale":{"domain":[-0.1,0.7],"nice":false,"zero":false},"axis":null},"y2":{"datum":0.4073}}},
{"data":{"name":"b"},"mark":{"type":"line","strokeWidth":2.7,"strokeJoin":"round","strokeCap":"round"},
"encoding":{
"x":{"field":"x","type":"quantitative","scale":{"domain":[-0.4,1.2],"nice":false,"zero":false},"axis":{"orient":"bottom","values":[-0.4,-0.2,0,0.2,0.4,0.6,0.8,1,1.2],"labelExpr":"''+datum.value","ticks":false,"tickSize":0,"domain":false,"grid":false,"labelFont":"Liberation Sans","labelFontSize":19,"labelFontWeight":"bold","labelColor":"#111","labelPadding":5,"labelFlush":false,"labelOverlap":false,"title":"Applied Potential / V","titleFont":"Liberation Sans","titleFontSize":24,"titleFontWeight":"bold","titleColor":"#111","titlePadding":11}},
"y":{"field":"y","type":"quantitative","scale":{"domain":[-0.1,0.7],"nice":false,"zero":false},"axis":{"orient":"left","values":[-0.1,0,0.1,0.2,0.3,0.4,0.5,0.6,0.7],"labelExpr":"''+datum.value","ticks":false,"tickSize":0,"domain":false,"grid":false,"labelFont":"Liberation Sans","labelFontSize":19,"labelFontWeight":"bold","labelColor":"#111","labelPadding":5,"labelOverlap":false,"title":"Current Density / mA cm⁻²","titleFont":"Liberation Sans","titleFontSize":26,"titleFontWeight":"bold","titleColor":"#111","titlePadding":4}},
"detail":{"field":"c","type":"nominal"},
"order":{"value":null},
"color":{"datum":"DS_44","scale":{"range":["#00B0F0"]},"legend":{"orient":"none","legendX":101,"legendY":119,"title":null,"symbolType":"M-1.75,0H1.75","symbolSize":400,"symbolStrokeWidth":2.5,"symbolOffset":7.5,"labelFontSize":14,"labelColor":"#00B0F0","labelFont":"Liberation Sans","strokeColor":"#000","fillColor":"#fff","padding":5,"labelOffset":10}}
}},
{"data":{"values":[{}]},"mark":{"type":"rule","color":"#222","strokeWidth":1.3},"encoding":{"x":{"datum":0.7025,"type":"quantitative","scale":{"domain":[-0.4,1.2],"nice":false,"zero":false},"axis":null},"x2":{"datum":0.9612},"y":{"datum":0.3937,"type":"quantitative","scale":{"domain":[-0.1,0.7],"nice":false,"zero":false},"axis":null},"y2":{"datum":0.2063}}},
{"data":{"values":[{}]},"mark":{"type":"point","shape":"wedge","filled":true,"color":"#222","size":70,"angle":146,"opacity":1},"encoding":{"x":{"datum":0.9523,"type":"quantitative","scale":{"domain":[-0.4,1.2],"nice":false,"zero":false},"axis":null},"y":{"datum":0.2127,"type":"quantitative","scale":{"domain":[-0.1,0.7],"nice":false,"zero":false},"axis":null}}},
{"data":{"values":[{"x":0,"y":0}]},"mark":{"type":"point","opacity":0},"encoding":{
"x":{"field":"x","type":"quantitative","scale":{"domain":[-0.4,1.2],"nice":false,"zero":false},"axis":{"orient":"bottom","values":[-0.4,-0.35,-0.3,-0.25,-0.2,-0.15,-0.1,-0.05,0,0.05,0.1,0.15,0.2,0.25,0.3,0.35,0.4,0.45,0.5,0.55,0.6,0.65,0.7,0.75,0.8,0.85,0.9,0.95,1,1.05,1.1,1.15,1.2],"labels":false,"domain":false,"grid":false,"ticks":true,"tickSize":5,"tickColor":"#888","tickWidth":1,"offset":-5,"title":null}},
"y":{"field":"y","type":"quantitative","scale":{"domain":[-0.1,0.7],"nice":false,"zero":false},"axis":{"orient":"left","values":[-0.1,-0.075,-0.05,-0.025,0,0.025,0.05,0.075,0.1,0.125,0.15,0.175,0.2,0.225,0.25,0.275,0.3,0.325,0.35,0.375,0.4,0.425,0.45,0.475,0.5,0.525,0.55,0.575,0.6,0.625,0.65,0.675,0.7],"labels":false,"domain":false,"grid":false,"ticks":true,"tickSize":5,"tickColor":"#888","tickWidth":1,"offset":-5,"title":null}}}},
{"data":{"values":[{"x":0,"y":0}]},"mark":{"type":"point","opacity":0},"encoding":{
"x":{"field":"x","type":"quantitative","scale":{"domain":[-0.4,1.2],"nice":false,"zero":false},"axis":{"orient":"top","values":[-0.4,-0.35,-0.3,-0.25,-0.2,-0.15,-0.1,-0.05,0,0.05,0.1,0.15,0.2,0.25,0.3,0.35,0.4,0.45,0.5,0.55,0.6,0.65,0.7,0.75,0.8,0.85,0.9,0.95,1,1.05,1.1,1.15,1.2],"labels":false,"domain":false,"grid":false,"ticks":true,"tickSize":5,"tickColor":"#888","tickWidth":1,"offset":-5,"title":null}},
"y":{"field":"y","type":"quantitative","scale":{"domain":[-0.1,0.7],"nice":false,"zero":false},"axis":{"orient":"right","values":[-0.1,-0.075,-0.05,-0.025,0,0.025,0.05,0.075,0.1,0.125,0.15,0.175,0.2,0.225,0.25,0.275,0.3,0.325,0.35,0.375,0.4,0.425,0.45,0.475,0.5,0.525,0.55,0.575,0.6,0.625,0.65,0.675,0.7],"labels":false,"domain":false,"grid":false,"ticks":true,"tickSize":5,"tickColor":"#888","tickWidth":1,"offset":-5,"title":null}}}}
]
}
]
}
